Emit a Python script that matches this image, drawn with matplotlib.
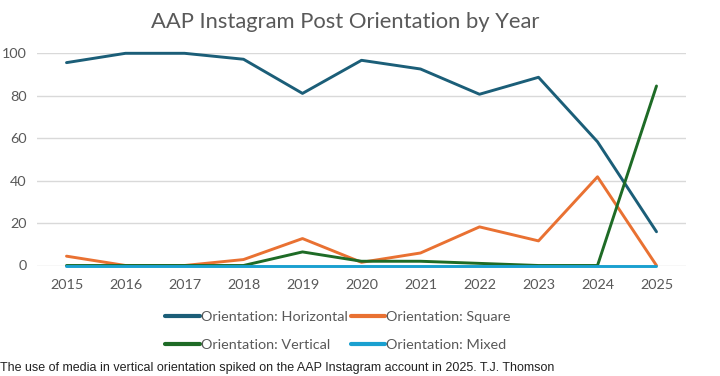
import matplotlib
matplotlib.use("Agg")
import matplotlib.pyplot as plt
from matplotlib import font_manager

years = [2015, 2016, 2017, 2018, 2019, 2020, 2021, 2022, 2023, 2024, 2025]
horizontal = [95.6, 100, 100, 97.2, 81.1, 96.7, 92.6, 80.7, 88.7, 58.3, 15.9]
square = [4.4, 0, 0, 2.8, 12.7, 1.5, 5.9, 18.2, 11.6, 41.8, 0]
vertical = [0, 0, 0, 0, 6.4, 2.0, 2.0, 1.0, 0, 0, 84.6]
mixed = [0, 0, 0, 0, 0, 0, 0, 0, 0, 0, 0]
yticks = [0, 20, 40, 60, 80, 100]

title = "AAP Instagram Post Orientation by Year"
caption = "The use of media in vertical orientation spiked on the AAP Instagram account in 2025. T.J. Thomson"

names = {f.name for f in font_manager.fontManager.ttflist}
main_font = "Lato" if "Lato" in names else "DejaVu Sans"
cap_font = "Liberation Sans Narrow" if "Liberation Sans Narrow" in names else "Liberation Sans"
plt.rcParams['font.family'] = [main_font, 'DejaVu Sans']

fig = plt.figure(figsize=(7.2, 3.76), dpi=100)
ax = fig.add_axes([37/720, 1 - 265.5/376, (686 - 37)/720, (265.5 - 53.3)/376])

c_h = "#1B5E78"
c_s = "#E97132"
c_v = "#1E6B26"
c_m = "#1AA0D0"

lh, = ax.plot(years, horizontal, color=c_h, lw=2.1, solid_capstyle='round', zorder=3)
ls, = ax.plot(years, square, color=c_s, lw=2.1, solid_capstyle='round', zorder=3)
lv, = ax.plot(years, vertical, color=c_v, lw=2.1, solid_capstyle='round', zorder=4)
lm, = ax.plot(years, mixed, color=c_m, lw=2.1, solid_capstyle='round', zorder=5)

ax.set_xlim(2014.5, 2025.5)
ax.set_ylim(0, 100)
ax.set_yticks(yticks)
ax.set_xticks(years)
ax.set_xticklabels([str(y) for y in years])
ax.yaxis.grid(True, color="#d9d9d9", lw=1)
ax.set_axisbelow(True)
for s in ax.spines.values():
    s.set_visible(False)
ax.tick_params(axis='both', length=0, labelsize=10.4, colors="#595959")
ax.tick_params(axis='y', pad=7.5)
ax.tick_params(axis='x', pad=10)
for l in (lh, ls, lv, lm):
    l.set_clip_on(False)

fig.text(345/720, 1 - 22/376, title, ha='center', va='center', fontsize=15.8, color="#595959")

leg = fig.legend([lh, lv, ls, lm],
                 ["Orientation: Horizontal", "Orientation: Vertical",
                  "Orientation: Square", "Orientation: Mixed"],
                 ncol=2, loc='center', bbox_to_anchor=(338/720, 1 - 330.5/376),
                 frameon=False, fontsize=10.4, handlelength=2.4, handletextpad=0.05,
                 columnspacing=0.2, labelspacing=1.1, labelcolor="#595959")
for h in leg.legend_handles:
    h.set_linewidth(3)

fig.text(0.0, 1 - 368/376, caption, ha='left', va='center', fontsize=9,
         color="#222222", family=[cap_font, 'DejaVu Sans'])

fig.savefig("out.png", dpi=100, facecolor="white")
